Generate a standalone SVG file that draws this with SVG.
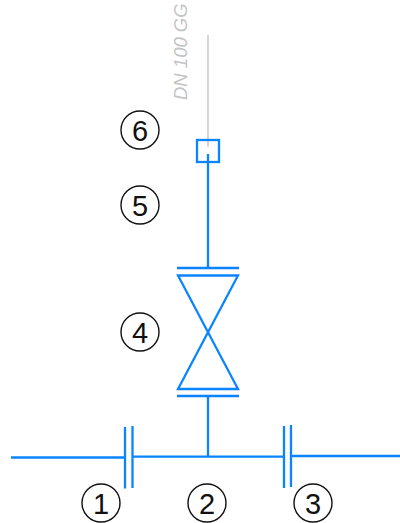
<svg xmlns="http://www.w3.org/2000/svg" width="400" height="523" viewBox="0 0 400 523">
<style>
.p{fill:none;stroke:#0a84ff;stroke-width:2.3}
.c{fill:#fff;stroke:#111;stroke-width:1.4}
.t{font-family:"Liberation Sans",Arial,sans-serif;font-size:29px;fill:#111;text-anchor:middle}
</style>
<rect width="400" height="523" fill="#fff"/>
<g id="connectors">
<path d="M208 35V147" fill="none" stroke="#c4c4c4" stroke-width="1.4"/>
<path class="p" d="M208 154V268M208 396V457M11 457.500H125M133 456.700H284M291 456H400"/>
</g>
<g id="label-dn"><text transform="translate(186.500,100) rotate(-90)" font-family="Liberation Sans,Arial,sans-serif" font-style="italic" font-size="18.500px" fill="#c4c4c4">DN 100 GG</text></g>
<g id="fitting"><rect class="p" x="197" y="140" width="22" height="22"/></g>
<g id="valve">
<path class="p" d="M177 268H239M177 396H239"/>
<path class="p" d="M178 275.500H238L178 389H238Z"/>
</g>
<g id="flange-left"><path class="p" d="M125 427V488.500M132.500 426V488"/></g>
<g id="flange-right"><path class="p" d="M284 426V488M291 425V487"/></g>
<g id="n1"><circle class="c" cx="101" cy="503" r="19"/><text class="t" x="101" y="513.500">1</text></g>
<g id="n2"><circle class="c" cx="207" cy="503" r="19"/><text class="t" x="207" y="513.500">2</text></g>
<g id="n3"><circle class="c" cx="313" cy="503" r="19"/><text class="t" x="313" y="513.500">3</text></g>
<g id="n4"><circle class="c" cx="140" cy="332" r="19"/><text class="t" x="140" y="342.500">4</text></g>
<g id="n5"><circle class="c" cx="140" cy="205" r="19"/><text class="t" x="140" y="215.500">5</text></g>
<g id="n6"><circle class="c" cx="140" cy="130" r="19"/><text class="t" x="140" y="140.500">6</text></g>
</svg>
